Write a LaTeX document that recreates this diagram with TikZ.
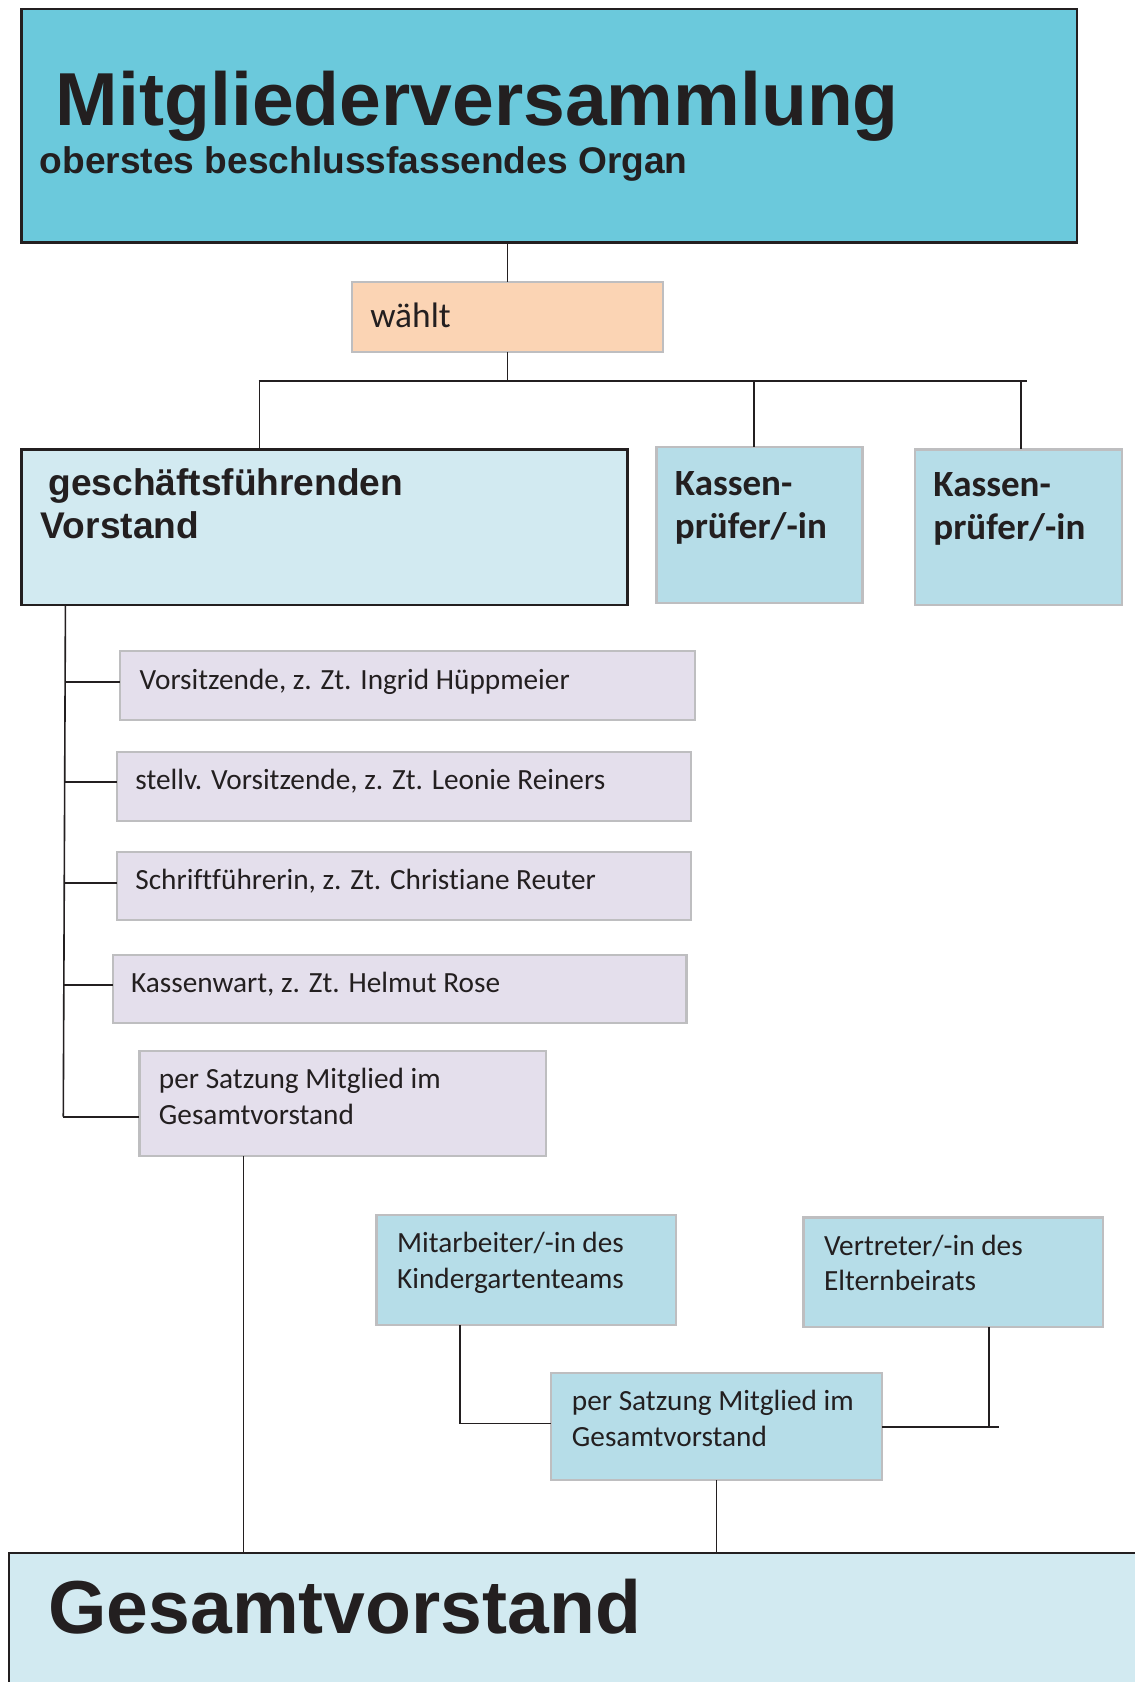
\documentclass[tikz,border=0pt]{standalone}
\usepackage{fontspec}
\setmainfont{Carlito}[Ligatures=NoCommon]
\newfontfamily\arl{Liberation Sans}
\definecolor{cyanA}{RGB}{107,201,220}
\definecolor{peach}{RGB}{251,212,180}
\definecolor{paleblue}{RGB}{210,234,241}
\definecolor{midblue}{RGB}{182,221,232}
\definecolor{lav}{RGB}{228,223,236}
\definecolor{linec}{RGB}{35,31,32}
\definecolor{graybd}{RGB}{190,190,192}
\definecolor{txtc}{RGB}{35,31,32}
\begin{document}
\begin{tikzpicture}[x=1pt,y=-1pt,
  bx/.style={rectangle, inner sep=0pt, outer sep=0pt},
  darkbox/.style={bx, draw=linec, line width=2pt},
  lightbox/.style={bx, draw=graybd, line width=2pt},
  conn/.style={draw=linec, line width=1.5pt},
  txt/.style={anchor=base west, inner sep=0pt, text=txtc},
  bigbold/.style={txt, font=\arl\bfseries\fontsize{70}{84}\selectfont},
  midbold/.style={txt, font=\arl\bfseries\fontsize{34.6}{40}\selectfont},
  calbold/.style={txt, font=\bfseries\fontsize{34.5}{40}\selectfont},
  calreg/.style={txt, font=\fontsize{27.3}{33}\selectfont},
  calbig/.style={txt, font=\fontsize{33}{40}\selectfont}]
\useasboundingbox (0,0) rectangle (1058,1568);
\clip (0,0) rectangle (1058,1568);
\fill[white] (0,0) rectangle (1058,1568);

% boxes
\node[darkbox, fill=cyanA, minimum width=984, minimum height=218] (mv) at (512,117) {};
\node[lightbox, fill=peach, minimum width=290, minimum height=65] (wa) at (473,295.5) {};
\node[darkbox, fill=paleblue, minimum width=565, minimum height=145] (gfv) at (302.5,491.5) {};
\node[lightbox, fill=midblue, minimum width=192, minimum height=145] (kp1) at (708,489.5) {};
\node[lightbox, fill=midblue, minimum width=193, minimum height=145] (kp2) at (949.5,491.5) {};
\node[lightbox, fill=lav, minimum width=536, minimum height=64] (v1) at (380,639) {};
\node[lightbox, fill=lav, minimum width=535, minimum height=64] (v2) at (376.5,733) {};
\node[lightbox, fill=lav, minimum width=535, minimum height=64] (v3) at (376.5,826) {};
\node[lightbox, fill=lav, minimum width=535, minimum height=64] (v4) at (372.5,922) {};
\node[lightbox, fill=lav, minimum width=379, minimum height=98] (v5) at (319.5,1029) {};
\node[lightbox, fill=midblue, minimum width=279, minimum height=102] (ma) at (490.5,1184) {};
\node[lightbox, fill=midblue, minimum width=279, minimum height=102] (ve) at (888.5,1186) {};
\node[lightbox, fill=midblue, minimum width=308, minimum height=100] (s2) at (668,1330) {};
\node[darkbox, fill=paleblue, minimum width=1070, minimum height=160] (gv) at (543,1528) {};

% texts
\node[bigbold] (mvt) at (52,117) {Mitgliederversammlung};
\node[midbold] (mvs) at (37,162) {oberstes beschlussfassendes Organ};
\node[calbig] (wat) at (345,305) {wählt};
\node[midbold] (gfa) at (45,462) {geschäftsführenden};
\node[midbold] (gfb) at (38,502) {Vorstand};
\node[calbold] (k1a) at (629,462) {Kassen-};
\node[calbold] (k1b) at (629,502) {prüfer/-in};
\node[calbold] (k2a) at (870,463) {Kassen-};
\node[calbold] (k2b) at (870,503) {prüfer/-in};
\node[calreg] (v1t) at (130,643) {Vorsitzende, z. Zt. Ingrid Hüppmeier};
\node[calreg] (v2t) at (126,736) {stellv. Vorsitzende, z. Zt. Leonie Reiners};
\node[calreg] (v3t) at (126,829) {Schriftführerin, z. Zt. Christiane Reuter};
\node[calreg] (v4t) at (122,925) {Kassenwart, z. Zt. Helmut Rose};
\node[calreg] (v5a) at (148,1015) {per Satzung Mitglied im};
\node[calreg] (v5b) at (148,1048) {Gesamtvorstand};
\node[calreg] (maa) at (370,1168) {Mitarbeiter/-in des};
\node[calreg] (mab) at (370,1201) {Kindergartenteams};
\node[calreg] (vea) at (768,1170) {Vertreter/-in des};
\node[calreg] (veb) at (768,1203) {Elternbeirats};
\node[calreg] (s2a) at (533,1315) {per Satzung Mitglied im};
\node[calreg] (s2b) at (533,1348) {Gesamtvorstand};
\node[bigbold] (gvt) at (45,1523) {Gesamtvorstand};

% connectors
\coordinate (barL) at (241,355);
\coordinate (barR) at (957,355);
\coordinate (d1) at (242,355);
\coordinate (d2) at (703,355);
\coordinate (d3) at (952,355);
\draw[conn] (mv.south -| wa.north) -- (wa.north);
\draw[conn] (wa.south) -- (wa.south |- barL);
\draw[conn, line width=2pt] (barL) -- (barR);
\draw[conn] (d1) -- (d1 |- gfv.north);
\draw[conn] (d2) -- (d2 |- kp1.north);
\draw[conn] (d3) -- (d3 |- kp2.north);

\coordinate (sp0) at (61,564);
\coordinate (sp1) at (59,1041);
\draw[conn] (sp0) -- (sp1);
\draw[conn] (61,636) -- (v1.west |- 0,636);
\draw[conn] (60,729) -- (v2.west |- 0,729);
\draw[conn] (60,823) -- (v3.west |- 0,823);
\draw[conn] (59,918) -- (v4.west |- 0,918);
\draw[conn] (sp1) -- (v5.west |- sp1);

\coordinate (v5d) at (227,1078);
\draw[conn] (v5d) -- (v5d |- gv.north);
\coordinate (mad) at (429,1235);
\coordinate (mac) at (429,1327);
\draw[conn] (mad) -- (mac) -- (s2.west |- mac);
\coordinate (ved) at (922,1237);
\coordinate (vec) at (922,1330);
\coordinate (vee) at (931,1330);
\draw[conn] (ved) -- (vec);
\draw[conn] (s2.east) -- (vee);
\draw[conn] (s2.south) -- (s2.south |- gv.north);
\end{tikzpicture}
\end{document}
